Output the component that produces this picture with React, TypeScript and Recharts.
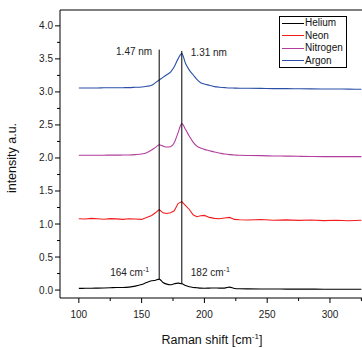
import { LineChart, Line, XAxis, YAxis, ReferenceLine, Legend } from "recharts";

const FONT = "'Liberation Sans', Arial, sans-serif";

const shift = [
  100, 105, 110, 115, 120, 125, 130, 135, 140, 145, 150, 154, 158, 161, 164, 167, 170, 173, 176, 179, 182, 185,
  188, 191, 194, 197, 200, 204, 208, 212, 216, 220, 224, 228, 235, 245, 255, 265, 275, 285, 295, 305, 315, 325,
];

const helium = [
  0.025, 0.027, 0.028, 0.03, 0.032, 0.035, 0.04, 0.04, 0.045, 0.06, 0.085, 0.115, 0.14, 0.15, 0.165, 0.115, 0.09,
  0.08, 0.095, 0.105, 0.095, 0.07, 0.05, 0.04, 0.035, 0.03, 0.028, 0.03, 0.032, 0.03, 0.03, 0.045, 0.025, 0.02,
  0.018, 0.017, 0.016, 0.015, 0.015, 0.014, 0.013, 0.013, 0.012, 0.012,
];

const neon = [
  1.08, 1.075, 1.085, 1.08, 1.072, 1.082, 1.078, 1.07, 1.08, 1.075, 1.07, 1.1, 1.13, 1.17, 1.22, 1.17, 1.16, 1.17,
  1.2, 1.31, 1.34, 1.28, 1.22, 1.14, 1.11, 1.125, 1.13, 1.1, 1.085, 1.08, 1.09, 1.1, 1.07, 1.065, 1.06, 1.068,
  1.058, 1.062, 1.055, 1.06, 1.052, 1.058, 1.05, 1.056,
];

const nitrogen = [
  2.04, 2.04, 2.04, 2.042, 2.042, 2.043, 2.043, 2.044, 2.045, 2.05, 2.06, 2.08, 2.12, 2.16, 2.2, 2.18, 2.165, 2.17,
  2.23, 2.38, 2.52, 2.43, 2.33, 2.24, 2.18, 2.15, 2.13, 2.11, 2.09, 2.075, 2.06, 2.05, 2.045, 2.04, 2.037, 2.035,
  2.03, 2.028, 2.025, 2.022, 2.02, 2.02, 2.02, 2.02,
];

const argon = [
  3.06, 3.06, 3.06, 3.06, 3.062, 3.062, 3.063, 3.064, 3.065, 3.07, 3.075, 3.085, 3.1, 3.14, 3.18, 3.22, 3.26, 3.3,
  3.38, 3.5, 3.58, 3.43, 3.33, 3.26, 3.19, 3.14, 3.12, 3.1, 3.08, 3.07, 3.065, 3.06, 3.058, 3.056, 3.055, 3.053,
  3.05, 3.05, 3.048, 3.046, 3.045, 3.044, 3.042, 3.04,
];

const series = [
  { key: "helium", name: "Helium", color: "#000000", values: helium, curve: "monotone" },
  { key: "neon", name: "Neon", color: "#f21c1c", values: neon, curve: "linear" },
  { key: "nitrogen", name: "Nitrogen", color: "#b13e9c", values: nitrogen, curve: "monotone" },
  { key: "argon", name: "Argon", color: "#2b4fa6", values: argon, curve: "monotone" },
];

const xTicks = [100, 125, 150, 175, 200, 225, 250, 275, 300, 325];
const yTicks = [0, 0.25, 0.5, 0.75, 1, 1.25, 1.5, 1.75, 2, 2.25, 2.5, 2.75, 3, 3.25, 3.5, 3.75, 4];

const data = shift.map((x, i) => {
  const row: Record<string, number> = { x };
  series.forEach((s) => (row[s.key] = s.values[i]));
  return row;
});

function XTick({ x, y, payload }: any) {
  const major = payload.value % 50 === 0;
  return (
    <g>
      <line x1={x} x2={x} y1={y} y2={y + (major ? 5 : 3)} stroke="#000" />
      {major && (
        <text x={x} y={y + 20} textAnchor="middle" fontSize={10} fill="#222" fontFamily={FONT}>
          {payload.value}
        </text>
      )}
    </g>
  );
}

function YTick({ x, y, payload }: any) {
  const major = Math.round(payload.value * 100) % 50 === 0;
  return (
    <g>
      <line x1={x} x2={x - (major ? 5 : 3)} y1={y} y2={y} stroke="#000" />
      {major && (
        <text x={x - 7} y={y + 3.5} textAnchor="end" fontSize={10} fill="#222" fontFamily={FONT}>
          {payload.value.toFixed(1)}
        </text>
      )}
    </g>
  );
}

function LegendBox() {
  return (
    <div
      style={{
        border: "1px solid #000",
        background: "#fff",
        padding: "0 3px 0 2px",
        fontSize: 10,
        lineHeight: "12.5px",
        fontFamily: FONT,
        color: "#111",
      }}
    >
      {series.map((s) => (
        <div key={s.key} style={{ display: "flex", alignItems: "center" }}>
          <span style={{ width: 22, height: 0, borderTop: `1px solid ${s.color}`, marginRight: 1 }} />
          {s.name}
        </div>
      ))}
    </div>
  );
}

const annot = (top: string, bottom: string, side: "left" | "right") => (props: any) => {
  const { x, y, height } = props.viewBox;
  const tx = side === "left" ? x - 7 : x + 9;
  const anchor = side === "left" ? "end" : "start";
  const [num] = bottom.split(" ");
  return (
    <g fontFamily={FONT} fontSize={10} fill="#222">
      <text x={tx} y={y + 5} textAnchor={anchor}>
        {top}
      </text>
      <text x={side === "left" ? tx - 3 : tx} y={y + height - (side === "left" ? 3 : 8)} textAnchor={anchor}>
        {num} cm
        <tspan fontSize={7} dy={-4}>
          -1
        </tspan>
      </text>
    </g>
  );
};

export default function App() {
  return (
    <div style={{ position: "absolute", left: 0, top: 0 }}>
      <LineChart width={362} height={348} data={data} margin={{ top: 10, right: 0, bottom: 0, left: 0 }}>
        <XAxis
          dataKey="x"
          type="number"
          domain={[85, 325.5]}
          ticks={xTicks}
          allowDataOverflow
          height={50}
          tickSize={0}
          tickMargin={0}
          tickLine={false}
          stroke="#000"
          tick={<XTick />}
          interval={0}
          label={{
            content: () => (
              <text x={212} y={344} textAnchor="middle" fontSize={12.5} fill="#111" fontFamily={FONT}>
                Raman shift [cm
                <tspan fontSize={8} dy={-5}>
                  -1
                </tspan>
                <tspan dy={5}>]</tspan>
              </text>
            ),
          }}
        />
        <YAxis
          type="number"
          domain={[-0.12, 4.24]}
          ticks={yTicks}
          allowDataOverflow
          width={60}
          tickSize={0}
          tickMargin={0}
          tickLine={false}
          stroke="#000"
          tick={<YTick />}
          interval={0}
          label={{
            content: () => (
              <text
                x={15.5}
                y={158}
                transform="rotate(-90, 15.5, 158)"
                textAnchor="middle"
                fontSize={12.5}
                fill="#111"
                fontFamily={FONT}
              >
                intensity a.u.
              </text>
            ),
          }}
        />
        <ReferenceLine y={4.24} stroke="#000" />
        {series.map((s) => (
          <Line
            key={s.key}
            dataKey={s.key}
            name={s.name}
            type={s.curve as any}
            stroke={s.color}
            strokeWidth={1.1}
            dot={false}
            isAnimationActive={false}
          />
        ))}
        <ReferenceLine
          segment={[
            { x: 164, y: 0.165 },
            { x: 164, y: 3.64 },
          ]}
          stroke="#000"
          label={{ content: annot("1.47 nm", "164 cm", "left") }}
        />
        <ReferenceLine
          segment={[
            { x: 182, y: 0.09 },
            { x: 182, y: 3.62 },
          ]}
          stroke="#000"
          label={{ content: annot("1.31 nm", "182 cm", "right") }}
        />
        <Legend
          layout="vertical"
          align="center"
          verticalAlign="middle"
          content={<LegendBox />}
          wrapperStyle={{ position: "absolute", left: 279, top: 16, width: "auto", height: "auto" }}
        />
      </LineChart>
    </div>
  );
}
